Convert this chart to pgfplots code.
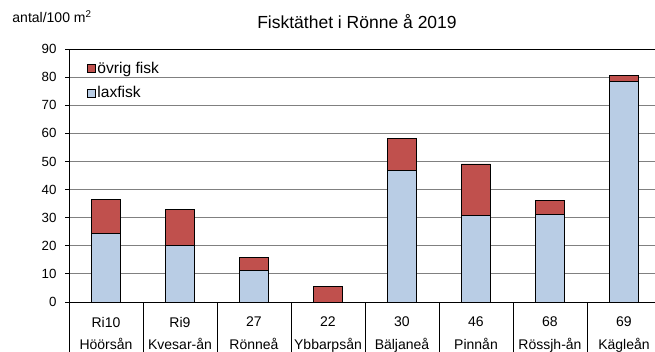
\documentclass[border=0pt]{standalone}
\usepackage{pgfplots}
\pgfplotsset{compat=1.18}
\usepackage{fontspec}
\setmainfont{Liberation Sans}
\definecolor{ored}{RGB}{192,80,77}
\definecolor{lblue}{RGB}{185,205,229}
\definecolor{gridgray}{RGB}{128,128,128}
\begin{document}
\begin{tikzpicture}
\begin{axis}[
  name=ax,
  scale only axis,
  width=592pt, height=253pt,
  xmin=-0.5, xmax=7.5,
  ymin=0, ymax=90,
  ytick={0,10,...,90},
  minor ytick={0,10,...,90},
  ymajorgrids,
  grid style={draw=gridgray, line width=0.8pt},
  axis line style={black, line width=0.9pt},
  tick align=outside,
  tick pos=left,
  major y tick style={draw=none},
  minor y tick style={black, line width=0.8pt},
  minor tick length=4pt,
  major tick length=50pt,
  xtick={-0.5,0.5,...,7.5},
  x tick label as interval,
  xticklabels={{Ri10\\Höörsån},{Ri9\\Kvesar-ån},{27\\Rönneå},{22\\Ybbarpsån},{30\\Bäljaneå},{46\\Pinnån},{68\\Rössjh-ån},{69\\Kägleån}},
  major x tick style={black, line width=0.8pt},
  xticklabel style={align=center, font=\fontsize{14}{22.5}\selectfont, yshift=38.5pt},
  yticklabel style={font=\fontsize{13.3}{15}\selectfont, xshift=41pt},
  /pgf/number format/assume math mode=true,
  ybar stacked,
  bar width=29.3pt,
  reverse legend,
  legend style={draw=none, fill=none, at={(rel axis cs:0.03,0.958)}, anchor=north west,
    font=\fontsize{15.6}{18}\selectfont, row sep=8pt, inner sep=0pt},
  legend cell align=left,
  legend image code/.code={\draw[#1, draw=black, line width=0.5pt] (0pt,-4pt) rectangle (8pt,4pt);},
  clip=false,
]
\addplot[fill=lblue, draw=black, line width=0.8pt] coordinates {
 (0,24.4) (1,20.0) (2,11.2) (3,0) (4,46.8) (5,30.9) (6,31.0) (7,78.4)};
\addlegendentry{laxfisk}
\addplot[fill=ored, draw=black, line width=0.8pt] coordinates {
 (0,12.2) (1,13.0) (2,4.7) (3,5.6) (4,11.4) (5,18.2) (6,5.0) (7,2.1)};
\addlegendentry{övrig fisk}
\node[font=\fontsize{17.5}{20}\selectfont, anchor=base] at ([xshift=288pt,yshift=20pt]rel axis cs:0,1) {Fisktäthet i Rönne å 2019};
\node[font=\fontsize{14}{16}\selectfont, anchor=base] at ([xshift=-17pt,yshift=26pt]rel axis cs:0,1) {antal/100 m\textsuperscript{2}};
\end{axis}
\pgfresetboundingbox
\path[use as bounding box] ([xshift=-69pt,yshift=-50pt]ax.south west) rectangle ([xshift=-6pt,yshift=49pt]ax.north east);
\end{tikzpicture}
\end{document}
